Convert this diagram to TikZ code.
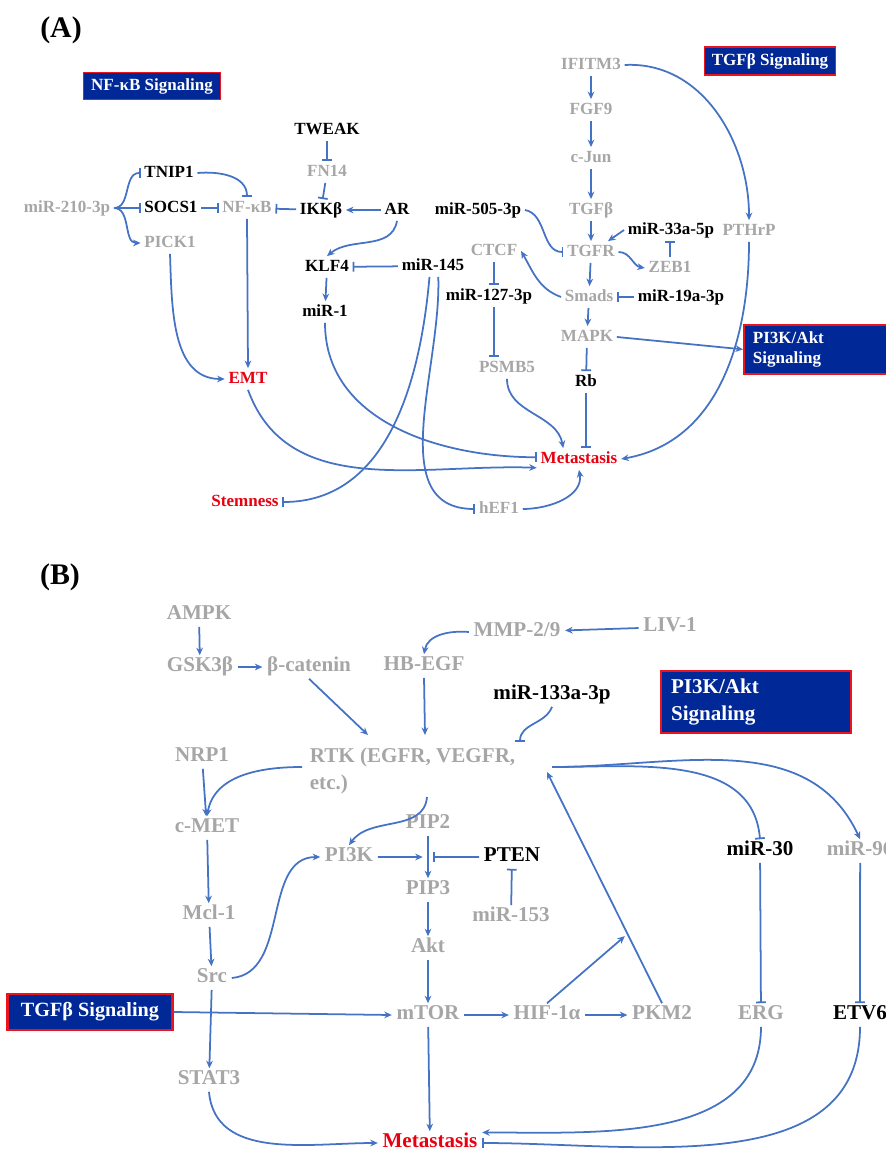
\documentclass[tikz,border=0pt]{standalone}
\usepackage{fontspec}
\setmainfont{Liberation Serif}
\usepackage{tikz}
\usetikzlibrary{positioning,calc,arrows.meta}
\definecolor{genegray}{RGB}{166,166,166}
\definecolor{linkblue}{RGB}{68,114,196}
\definecolor{outred}{RGB}{232,0,16}
\definecolor{boxblue}{RGB}{0,40,150}
\definecolor{boxred}{RGB}{235,20,30}
\tikzstyle{gene}=[inner sep=2pt, text height=0.68em, text depth=0.12em, font=\bfseries\fontsize{9.7}{11.6}\selectfont]
\tikzstyle{faded}=[gene, text=genegray]
\tikzstyle{mir}=[gene, text=black]
\tikzstyle{hot}=[gene, text=outred]
\tikzstyle{geneB}=[inner sep=2.5pt, text height=0.68em, text depth=0.12em, font=\bfseries\fontsize{12}{15.3}\selectfont]
\tikzstyle{fadedB}=[geneB, text=genegray]
\tikzstyle{mirB}=[geneB, text=black]
\tikzstyle{hotB}=[geneB, text=outred]
\tikzstyle{sigbox}=[rectangle, draw=boxred, fill=boxblue, line width=1pt, text=white, inner sep=2pt, font=\bfseries\fontsize{9.7}{11}\selectfont]
\tikzstyle{sigboxB}=[sigbox, line width=1.2pt, font=\bfseries\fontsize{12}{15}\selectfont]
\tikzstyle{panel}=[inner sep=0pt, font=\bfseries\fontsize{17}{20}\selectfont]
\tikzstyle{activ}=[draw=linkblue, line width=1pt, -{Stealth[length=4.3pt, width=3.8pt]}]
\tikzstyle{inhib}=[draw=linkblue, line width=1pt, -{Bar[width=5.5pt]}]

\begin{document}
\begin{tikzpicture}[x=0.02cm, y=-0.02cm]
\useasboundingbox (0,0) rectangle (885,1151);

        \node (labA)[panel] at (61,30) {(A)};
        \node (nfbox)[sigbox, minimum width=2.74cm, minimum height=0.54cm] at (152,86) {NF-κB Signaling};
        \node (tgfboxA)[sigbox, minimum width=2.62cm, minimum height=0.56cm] at (770,61) {TGFβ Signaling};
        \node (pkboxA)[sigbox, anchor=north west, inner xsep=0.18cm, text width=2.7cm, align=left, minimum height=0.98cm] at (743,324) {PI3K/Akt\\Signaling};

        \node (mir210)[faded] at (67,208) {miR-210-3p};
        \node (tnip)[mir] at (169,173) {TNIP1};
        \node (socs)[mir] at (171,208) {SOCS1};
        \node (pick)[faded] at (170,243) {PICK1};
        \node (nfkb)[faded] at (247,208) {NF-κB};
        \node (tweak)[mir] at (327,130) {TWEAK};
        \node (fn14)[faded] at (327,172) {FN14};
        \node (ikk)[mir] at (321,210) {IKKβ};
        \node (ar)[mir] at (397,210) {AR};
        \node (mir505)[mir] at (478,210) {miR-505-3p};
        \node (klf4)[mir] at (327,267) {KLF4};
        \node (mir145)[mir] at (433,266) {miR-145};
        \node (mir1)[mir] at (325,312) {miR-1};
        \node (ctcf)[faded] at (494,251) {CTCF};
        \node (mir127)[mir] at (489,296) {miR-127-3p};
        \node (psmb5)[faded] at (507,368) {PSMB5};
        \node (ifitm3)[faded] at (591,65) {IFITM3};
        \node (fgf9)[faded] at (591,110) {FGF9};
        \node (cjun)[faded] at (591,158) {c-Jun};
        \node (tgfb)[faded] at (591,210) {TGFβ};
        \node (tgfr)[faded] at (591,252) {TGFR};
        \node (smads)[faded] at (589,297) {Smads};
        \node (mapk)[faded] at (587,337) {MAPK};
        \node (rb)[mir] at (586,382) {Rb};
        \node (mir33)[mir] at (671,230) {miR-33a-5p};
        \node (pthrp)[faded] at (749,231) {PTHrP};
        \node (zeb1)[faded] at (670,268) {ZEB1};
        \node (mir19)[mir] at (681,297) {miR-19a-3p};
        \node (metA)[hot] at (579,459) {Metastasis};
        \node (emt)[hot] at (248,379) {EMT};
        \node (stem)[hot] at (245,502) {Stemness};
        \node (hef1)[faded] at (499,509) {hEF1};

        \draw [inhib] (mir210.east) to [out=0,in=180] (tnip.west);
        \draw [inhib] (mir210.east) -- (socs.west);
        \draw [activ] (mir210.east) to [out=0,in=180] (pick.west);
        \draw [inhib] (tnip.east) to [out=5,in=90] (nfkb.north);
        \draw [inhib] (socs) -- (nfkb);
        \draw [inhib] (ikk) -- (nfkb);
        \draw [activ] (ar) -- (ikk);
        \draw [inhib] (tweak) -- (fn14);
        \draw [inhib] (fn14) -- (ikk);
        \draw [activ] (ar.south) to [out=-100,in=40] (klf4.north);
        \draw [inhib] (mir145) -- (klf4);
        \draw [activ] (klf4) -- (mir1);
        \draw [inhib] (mir1.south) to [out=-90,in=180] ([yshift=1pt]metA.west);
        \draw [activ] (emt.south) to [out=-70,in=178] ([yshift=-5pt]metA.west);
        \draw [activ] (pick.south) to [out=-88,in=180] (emt.west);
        \draw [activ] (nfkb.south) -- (emt.north);
        \draw [inhib] ([xshift=-2pt]mir145.south) to [out=-95,in=0] (stem.east);
        \draw [inhib] ([xshift=3pt]mir145.south) to [out=-88,in=180] (hef1.west);
        \draw [activ] (hef1.east) to [out=0,in=-80] (metA.south);
        \draw [activ] (psmb5.south) to [out=-90,in=100] ([xshift=-9pt]metA.north);
        \draw [inhib] (rb.south) -- (rb.south |- metA.north);
        \draw [inhib] (mapk) -- (rb);
        \draw [activ] (smads) -- (mapk);
        \draw [activ] (tgfr) -- (smads);
        \draw [activ] (tgfb) -- (tgfr);
        \draw [activ] (cjun) -- (tgfb);
        \draw [activ] (fgf9) -- (cjun);
        \draw [activ] (ifitm3) -- (fgf9);
        \draw [activ] (ifitm3.east) to [out=3,in=90] (pthrp.north);
        \draw [activ] (pthrp.south) to [out=-90,in=10] (metA.east);
        \draw [inhib] (mir505.east) to [out=-10,in=180] (tgfr.west);
        \draw [activ] (mir33.west) -- ([xshift=-6pt]tgfr.north east);
        \draw [activ] (tgfr.east) to [out=0,in=170] (zeb1.west);
        \draw [inhib] (zeb1.north) -- (zeb1.north |- mir33.south);
        \draw [inhib] (mir19) -- (smads);
        \draw [activ] (smads.west) to [out=160,in=-60] (ctcf.east);
        \draw [inhib] (ctcf.south) -- (ctcf.south |- mir127.north);
        \draw [inhib] (ctcf.south |- mir127.south) -- (ctcf.south |- psmb5.north);
        \draw [activ] (mapk.east) -- (pkboxA.west);

        \node (labB)[panel] at (60,577) {(B)};
        \node (tgfboxB)[sigboxB, minimum width=3.3cm, minimum height=0.72cm, font=\bfseries\fontsize{11.5}{14}\selectfont] at (90,1012) {TGFβ Signaling};
        \node (pkboxB)[sigboxB, anchor=north west, inner xsep=0.2cm, text width=3.4cm, align=left, minimum height=1.24cm] at (660,670) {PI3K/Akt\\Signaling};

        \node (ampk)[fadedB] at (199,615) {AMPK};
        \node (gsk)[fadedB] at (200,667) {GSK3β};
        \node (bcat)[fadedB] at (309,667) {β-catenin};
        \node (hbegf)[fadedB] at (424,666) {HB-EGF};
        \node (mmp)[fadedB] at (517,632) {MMP-2/9};
        \node (liv1)[fadedB] at (670,627) {LIV-1};
        \node (mir133)[mirB] at (552,695) {miR-133a-3p};
        \node (rtk)[inner sep=2pt, text=genegray, font=\bfseries\fontsize{12}{15.3}\selectfont, align=left, anchor=north west] at (306,744) {RTK (EGFR, VEGFR,\\etc.)};
        \node (nrp1)[fadedB] at (202,757) {NRP1};
        \node (cmet)[fadedB] at (207,828) {c-MET};
        \node (mcl1)[fadedB] at (209,915) {Mcl-1};
        \node (src)[fadedB] at (212,978) {Src};
        \node (stat3)[fadedB] at (209,1080) {STAT3};
        \node (pi3k)[fadedB] at (349,857) {PI3K};
        \node (pip2)[fadedB] at (428,824) {PIP2};
        \node (pip3)[fadedB] at (428,890) {PIP3};
        \node (akt)[fadedB] at (428,948) {Akt};
        \node (mtor)[fadedB] at (428,1015) {mTOR};
        \node (pten)[mirB] at (512,857) {PTEN};
        \node (mir153)[fadedB] at (511,917) {miR-153};
        \node (hif1a)[fadedB] at (547,1015) {HIF-1α};
        \node (pkm2)[fadedB] at (662,1015) {PKM2};
        \node (erg)[fadedB] at (761,1015) {ERG};
        \node (etv6)[mirB] at (860,1015) {ETV6};
        \node (mir30)[mirB] at (760,851) {miR-30};
        \node (mir96)[fadedB, anchor=west] at (822,851) {miR-96};
        \node (metB)[hotB] at (430,1143) {Metastasis};

        \coordinate (rtkin) at ($(rtk.north west)+(241,28)$);
        \coordinate (pkrtk) at ($(pkm2.north)!0.3!(rtkin)$);
        \coordinate (pipmid) at ($(pip2.south)!0.5!(pip3.north)$);

        \draw [activ] (ampk) -- (gsk);
        \draw [activ] (gsk) -- (bcat);
        \draw [activ] (bcat.south) -- ($(rtk.north west)+(62,-9)$);
        \draw [activ] (hbegf.south) -- ($(rtk.north west)+(119,-9)$);
        \draw [activ] (mmp.west) to [out=175,in=80] (hbegf.north);
        \draw [activ] (liv1) -- (mmp);
        \draw [inhib] (mir133.south) to [out=-110,in=90] ($(rtk.north west)+(214,-2)$);
        \draw [activ] (nrp1) -- (cmet);
        \draw [activ] ($(rtk.north west)+(-4,23)$) to [out=180,in=80] (cmet.north);
        \draw [activ] ($(rtk.north west)+(121,53)$) to [out=-95,in=55] (pi3k.north);
        \draw [activ] (cmet) -- (mcl1);
        \draw [activ] (mcl1) -- (src);
        \draw [activ] (src) -- (stat3);
        \draw [activ] (src.east) to [out=5,in=180] (pi3k.west);
        \draw [activ] (pi3k.east) -- ([xshift=-3pt]pipmid);
        \draw [inhib] (pten.west) -- ([xshift=3pt]pipmid);
        \draw [activ] (pip2) -- (pip3);
        \draw [inhib] (mir153) -- (pten);
        \draw [activ] (pip3) -- (akt);
        \draw [activ] (akt) -- (mtor);
        \draw [activ] (tgfboxB.east) -- (mtor.west);
        \draw [activ] (mtor) -- (metB);
        \draw [activ] (mtor) -- (hif1a);
        \draw [activ] (hif1a) -- (pkm2);
        \draw [activ] (pkm2.north) -- (rtkin);
        \draw [activ, shorten >=2pt] (hif1a.north) -- (pkrtk);
        \draw [activ] (stat3.south) to [out=-85,in=180] (metB.west);
        \draw [inhib] ($(rtk.north west)+(246,23)$) to [out=0,in=95] (mir30.north);
        \draw [activ] ($(rtk.north west)+(246,23)$) to [out=0,in=115] (mir96.north);
        \draw [inhib] (mir30) -- (erg);
        \draw [inhib] (mir96.south) -- (etv6.north);
        \draw [activ] (erg.south) to [out=-90,in=0] ([yshift=6pt]metB.east);
        \draw [inhib] (etv6.south) to [out=-90,in=0] (metB.east);
\end{tikzpicture}
\end{document}
